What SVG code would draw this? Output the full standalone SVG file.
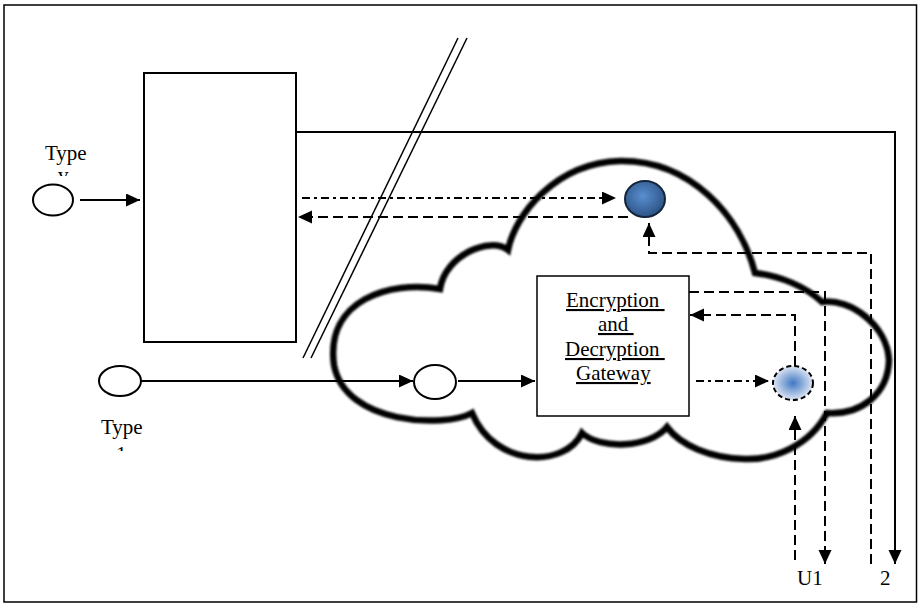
<svg xmlns="http://www.w3.org/2000/svg" width="919" height="606" viewBox="0 0 919 606">
  <style>
    .ln { fill: none; stroke: #000; stroke-width: 2; }
    .dash { fill: none; stroke: #000; stroke-width: 2; stroke-dasharray: 10 5; }
    .dashdot { fill: none; stroke: #000; stroke-width: 2; stroke-dasharray: 8 4 3 4; }
    .node { fill: #fff; stroke: #000; stroke-width: 2; }
    .lbl { font-family: "Liberation Serif", "Times New Roman", serif; font-size: 21px; fill: #000; }
    .ul { text-decoration: underline; }
  </style>
  <defs>
    <marker id="arrow" markerUnits="userSpaceOnUse" markerWidth="15" markerHeight="14" refX="14" refY="6.5" orient="auto">
      <path d="M0,0 L14,6.5 L0,13 z" fill="#000"/>
    </marker>
    <radialGradient id="blueBall" cx="45%" cy="42%" r="60%">
      <stop offset="0" stop-color="#5a8fd0"/>
      <stop offset="1" stop-color="#2a5283"/>
    </radialGradient>
    <radialGradient id="softBall" cx="50%" cy="50%" r="55%">
      <stop offset="0" stop-color="#3f78c4"/>
      <stop offset="0.6" stop-color="#a9c0e2"/>
      <stop offset="1" stop-color="#eef2f9"/>
    </radialGradient>
    <filter id="soft" x="-5%" y="-5%" width="110%" height="110%">
      <feGaussianBlur stdDeviation="0.9"/>
    </filter>
    <clipPath id="clipTop"><rect x="40" y="165" width="50" height="11"/></clipPath>
    <clipPath id="clipBottom"><rect x="100" y="440" width="50" height="11"/></clipPath>
  </defs>

  <rect width="919" height="606" fill="#fff"/>
  <!-- outer frame -->
  <rect id="frame" x="4" y="5" width="912.5" height="597" fill="none" stroke="#000" stroke-width="1.5"/>

  <!-- cloud outline -->
  <g id="cloud">
    <path d="M440,289 C445,255 490,236 508,250 C515,215 555,163 620,161 C690,160 740,215 755,273 C780,276 805,286 822,302 C850,298 887,325 889,360 C888,395 860,415 827,413 C810,445 775,460 745,459 C710,458 680,445 667,427 C650,448 600,450 582,433 C565,468 495,468 472,413 C445,428 345,425 334,365 C325,300 390,280 440,289 Z"
          fill="none" stroke="#000" stroke-width="6.5" stroke-linejoin="miter" filter="url(#soft)"/>
  </g>

  <!-- break marker: double slash -->
  <g id="break">
    <line x1="458" y1="38" x2="303" y2="358" stroke="#000" stroke-width="1.5"/>
    <line x1="467" y1="38" x2="311" y2="358" stroke="#000" stroke-width="1.5"/>
  </g>

  <g id="connectors">
    <!-- Type (top) into left block -->
    <line class="ln" x1="80" y1="200" x2="140" y2="200" marker-end="url(#arrow)"/>
    <!-- left block out to lower right (2) -->
    <polyline class="ln" points="296,132 895,132 895,564" marker-end="url(#arrow)"/>
    <!-- Type (bottom) into cloud entry node -->
    <line class="ln" x1="141" y1="381" x2="413" y2="381" marker-end="url(#arrow)"/>
    <!-- entry node into gateway -->
    <line class="ln" x1="458" y1="381" x2="535" y2="381" marker-end="url(#arrow)"/>
    <!-- left block to cloud node (dash-dot) -->
    <line class="dashdot" x1="302" y1="198" x2="616" y2="198" marker-end="url(#arrow)"/>
    <!-- cloud node back to left block -->
    <line class="dash" x1="628" y1="217" x2="298" y2="217" marker-end="url(#arrow)"/>
    <!-- from bottom right (2) up to cloud node -->
    <polyline class="dash" points="871,564 871,253 649,253 649,223" marker-end="url(#arrow)"/>
    <!-- gateway out to U1 -->
    <polyline class="dash" points="689,292 825,292 825,564" marker-end="url(#arrow)"/>
    <!-- soft node back to gateway -->
    <polyline class="dash" points="795,366 795,315 690,315" marker-end="url(#arrow)"/>
    <!-- gateway to soft node (dash-dot) -->
    <line class="dashdot" x1="696" y1="381" x2="769" y2="381" marker-end="url(#arrow)"/>
    <!-- from U1 side up to soft node -->
    <line class="dash" x1="795" y1="560" x2="795" y2="416" marker-end="url(#arrow)"/>
  </g>

  <!-- nodes -->
  <g id="left-block">
    <rect x="144" y="73" width="152" height="269" fill="#fff" stroke="#000" stroke-width="2"/>
  </g>

  <g id="type-top">
    <ellipse class="node" cx="53" cy="200" rx="20" ry="15.5"/>
    <text class="lbl" x="45" y="160">Type</text>
    <text class="lbl" x="58" y="182" clip-path="url(#clipTop)">v</text>
  </g>

  <g id="type-bottom">
    <ellipse class="node" cx="120" cy="381" rx="21" ry="15"/>
    <text class="lbl" x="101" y="434">Type</text>
    <text class="lbl" x="116" y="461" clip-path="url(#clipBottom)">1</text>
  </g>

  <g id="entry-node">
    <ellipse class="node" cx="435" cy="382" rx="21" ry="17"/>
  </g>

  <g id="gateway">
    <rect x="537" y="276" width="152" height="140" fill="#fff" stroke="#000" stroke-width="1.5"/>
    <text class="lbl ul" xml:space="preserve" x="566" y="307">Encryption </text>
    <text class="lbl ul" xml:space="preserve" x="598" y="331">and </text>
    <text class="lbl ul" xml:space="preserve" x="565" y="356">Decryption </text>
    <text class="lbl ul" x="576" y="380">Gateway</text>
  </g>

  <g id="cloud-node">
    <ellipse cx="645" cy="199" rx="20" ry="18" fill="url(#blueBall)" stroke="#14243a" stroke-width="2"/>
  </g>

  <g id="soft-node">
    <ellipse cx="793" cy="383" rx="20" ry="17" fill="url(#softBall)" stroke="#000" stroke-width="2" stroke-dasharray="5 3"/>
  </g>

  <g id="labels">
    <text class="lbl" x="797" y="585">U1</text>
    <text class="lbl" x="880" y="585">2</text>
  </g>
</svg>
